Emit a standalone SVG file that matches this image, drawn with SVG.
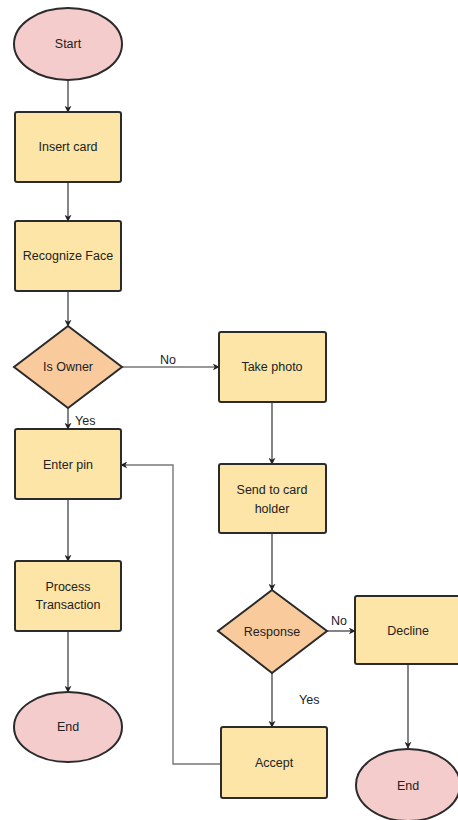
<svg xmlns="http://www.w3.org/2000/svg" width="458" height="820" viewBox="0 0 458 820">
<defs>
<style>
.term{fill:#f4cccc;stroke:#2b2b2b;stroke-width:2}
.proc{fill:#fce5a6;stroke:#2b2b2b;stroke-width:2}
.dec{fill:#f9cb9c;stroke:#2b2b2b;stroke-width:2}
text{font-family:"Liberation Sans",Arial,sans-serif;font-size:12.5px;fill:#222;text-anchor:middle;dominant-baseline:central}
.conn{fill:none;stroke:#333;stroke-width:1.2;marker-end:url(#arr)}
.loop{fill:none;stroke:#777;stroke-width:1.4;marker-end:url(#arr)}
.lbl{text-anchor:start}
</style>
<marker id="arr" viewBox="0 0 10 10" refX="9" refY="5" markerWidth="7" markerHeight="7" orient="auto" markerUnits="userSpaceOnUse">
<path d="M0,0 L10,5 L0,10 L3,5 Z" fill="#222"/>
</marker>
</defs>
<rect width="458" height="820" fill="#fff"/>
<g id="connectors">
<path class="conn" d="M68,80 L68,112"/>
<path class="conn" d="M68,182 L68,221"/>
<path class="conn" d="M68,291 L68,326"/>
<path class="conn" d="M68,408 L68,429"/>
<path class="conn" d="M122,367 L219,367"/>
<path class="conn" d="M272,402 L272,464"/>
<path class="conn" d="M272,533 L272,590"/>
<path class="conn" d="M327,631 L355,631"/>
<path class="conn" d="M272,673 L272,727"/>
<path class="loop" d="M221,764 L173,764 L173,465 L121,465"/>
<path class="conn" d="M68,499 L68,561"/>
<path class="conn" d="M68,631 L68,692"/>
<path class="conn" d="M408,664 L408,748"/>
<text class="lbl" x="160" y="360">No</text>
<text class="lbl" x="75" y="421">Yes</text>
<text class="lbl" x="331" y="621">No</text>
<text class="lbl" x="299" y="700">Yes</text>
</g>
<g id="start"><ellipse class="term" cx="68" cy="44" rx="54" ry="36"/><text x="68" y="44">Start</text></g>
<g id="insert-card"><rect class="proc" x="15" y="112" width="106" height="70" rx="2"/><text x="68" y="147">Insert card</text></g>
<g id="recognize-face"><rect class="proc" x="15" y="221" width="106" height="70" rx="2"/><text x="68" y="256">Recognize Face</text></g>
<g id="is-owner"><polygon class="dec" points="68,326 122,367 68,408 14,367"/><text x="68" y="367">Is Owner</text></g>
<g id="enter-pin"><rect class="proc" x="15" y="429" width="106" height="70" rx="2"/><text x="68" y="465">Enter pin</text></g>
<g id="process-transaction"><rect class="proc" x="15" y="561" width="106" height="70" rx="2"/><text x="68" y="587">Process</text><text x="68" y="605">Transaction</text></g>
<g id="end-left"><ellipse class="term" cx="68" cy="727" rx="54" ry="35"/><text x="68" y="727">End</text></g>
<g id="take-photo"><rect class="proc" x="219" y="332" width="107" height="70" rx="2"/><text x="272" y="367">Take photo</text></g>
<g id="send-to-card-holder"><rect class="proc" x="219" y="464" width="107" height="69" rx="2"/><text x="272" y="490">Send to card</text><text x="272" y="509">holder</text></g>
<g id="response"><polygon class="dec" points="272,590 327,631 272,673 218,631"/><text x="272" y="632">Response</text></g>
<g id="decline"><rect class="proc" x="355" y="596" width="106" height="68" rx="2"/><text x="408" y="631">Decline</text></g>
<g id="accept"><rect class="proc" x="221" y="727" width="106" height="71" rx="2"/><text x="274" y="763">Accept</text></g>
<g id="end-right"><ellipse class="term" cx="408" cy="785" rx="52" ry="36"/><text x="408" y="786">End</text></g>
</svg>
